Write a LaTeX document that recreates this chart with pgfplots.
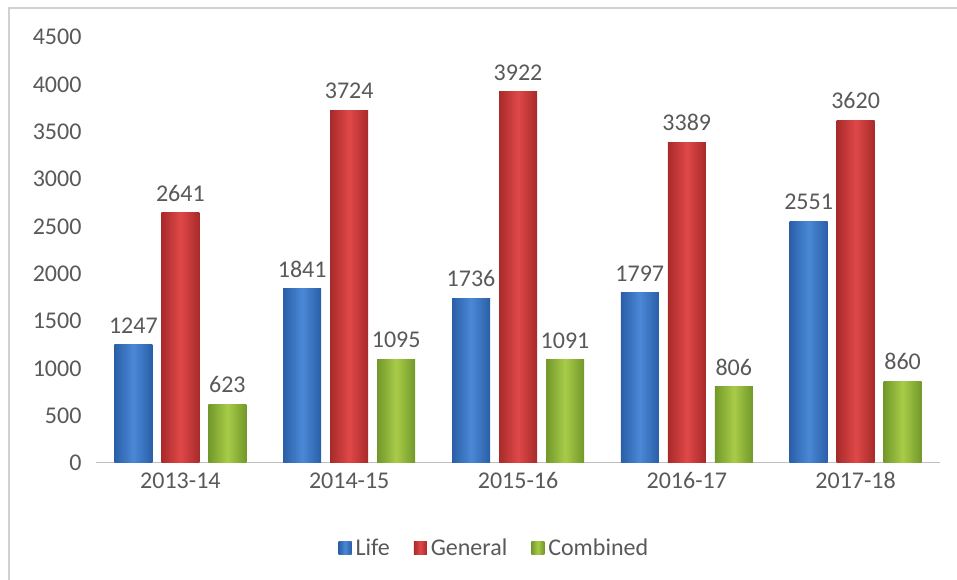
\documentclass[border=0pt]{standalone}
\usepackage{pgfplots}
\pgfplotsset{compat=1.18}
\usepackage{fontspec}
\setmainfont{Carlito}
\definecolor{txt}{HTML}{595959}
\definecolor{bmid}{HTML}{4A88D6}
\definecolor{bedge}{HTML}{2A5FA8}
\definecolor{rmid}{HTML}{E04848}
\definecolor{redge}{HTML}{A82A2A}
\definecolor{gmid}{HTML}{A8CC48}
\definecolor{gedge}{HTML}{72982A}
\pgfplotsset{
  lifebar/.style={ybar, bar width=38bp, bar shift=-47bp, draw=none, left color=bedge, right color=bedge, middle color=bmid,
     every node near coord/.append style={xshift=-47bp}},
  genbar/.style={ybar, bar width=38bp, bar shift=0bp, draw=none, left color=redge, right color=redge, middle color=rmid},
  combar/.style={ybar, bar width=38bp, bar shift=47bp, draw=none, left color=gedge, right color=gedge, middle color=gmid,
     every node near coord/.append style={xshift=47bp}},
}
\begin{document}
\begin{tikzpicture}
\useasboundingbox (0,0) rectangle (957bp,580bp);
\fill[white] (0,0) rectangle (957bp,580bp);
\draw[black!18, line width=1.5bp] (9bp,0) -- (9bp,572bp) -- (957bp,572bp);
\begin{axis}[
  at={(96bp,117bp)}, anchor=south west,
  scale only axis, width=844bp, height=426bp,
  xmin=-0.5, xmax=4.5, ymin=0, ymax=4500,
  ytick={0,500,...,4500},
  xtick={0,1,2,3,4},
  xticklabels={2013-14,2014-15,2015-16,2016-17,2017-18},
  axis y line=none,
  axis x line*=bottom,
  x axis line style={black!25, line width=1bp, -},
  major tick length=0pt,
  ymajorgrids, grid style={black!15, line width=0.8bp},
  ticklabel style={font=\fontsize{24bp}{28bp}\selectfont, text=txt},
  /pgf/number format/assume math mode=true,
  /pgf/number format/1000 sep={},
  xticklabel style={yshift=-6bp},
  nodes near coords,
  every node near coord/.append style={font=\fontsize{24bp}{28bp}\selectfont, text=txt, yshift=8bp, /pgf/number format/1000 sep={}, /pgf/number format/assume math mode=true},
  legend style={at={(0.472,-0.2)}, anchor=center, draw=none, legend columns=3,
     font=\fontsize{24bp}{28bp}\selectfont, text=txt,
     /tikz/every even column/.append style={column sep=22bp},
     /tikz/every odd column/.append style={inner xsep=0pt}},
  legend cell align=left,
  legend image code/.code={\path[#1, draw=none] (0bp,-6bp) rectangle (13bp,7bp); \path (15bp,0bp);},
  clip=false,
]
\addplot[lifebar] coordinates {(0,1247)};
\addplot[genbar] coordinates {(0,2641)};
\addplot[combar] coordinates {(0,623)};
\legend{Life,General,Combined}
\addplot[lifebar, forget plot] coordinates {(1,1841)};
\addplot[lifebar, forget plot] coordinates {(2,1736)};
\addplot[lifebar, forget plot] coordinates {(3,1797)};
\addplot[lifebar, forget plot] coordinates {(4,2551)};
\addplot[genbar, forget plot] coordinates {(1,3724)};
\addplot[genbar, forget plot] coordinates {(2,3922)};
\addplot[genbar, forget plot] coordinates {(3,3389)};
\addplot[genbar, forget plot] coordinates {(4,3620)};
\addplot[combar, forget plot] coordinates {(1,1095)};
\addplot[combar, forget plot] coordinates {(2,1091)};
\addplot[combar, forget plot] coordinates {(3,806)};
\addplot[combar, forget plot] coordinates {(4,860)};
\end{axis}
\begin{axis}[
  at={(96bp,117bp)}, anchor=south west,
  scale only axis, width=844bp, height=426bp,
  xmin=-0.5, xmax=4.5, ymin=0, ymax=4500,
  ytick={0,500,...,4500},
  axis x line=none,
  axis y line*=left,
  y axis line style={draw=none},
  major tick length=0pt,
  ticklabel style={font=\fontsize{24bp}{28bp}\selectfont, text=txt},
  /pgf/number format/assume math mode=true,
  /pgf/number format/1000 sep={},
  yticklabel style={xshift=-11bp},
]
\addplot[draw=none] coordinates {(0,0)};
\end{axis}
\end{tikzpicture}
\end{document}
